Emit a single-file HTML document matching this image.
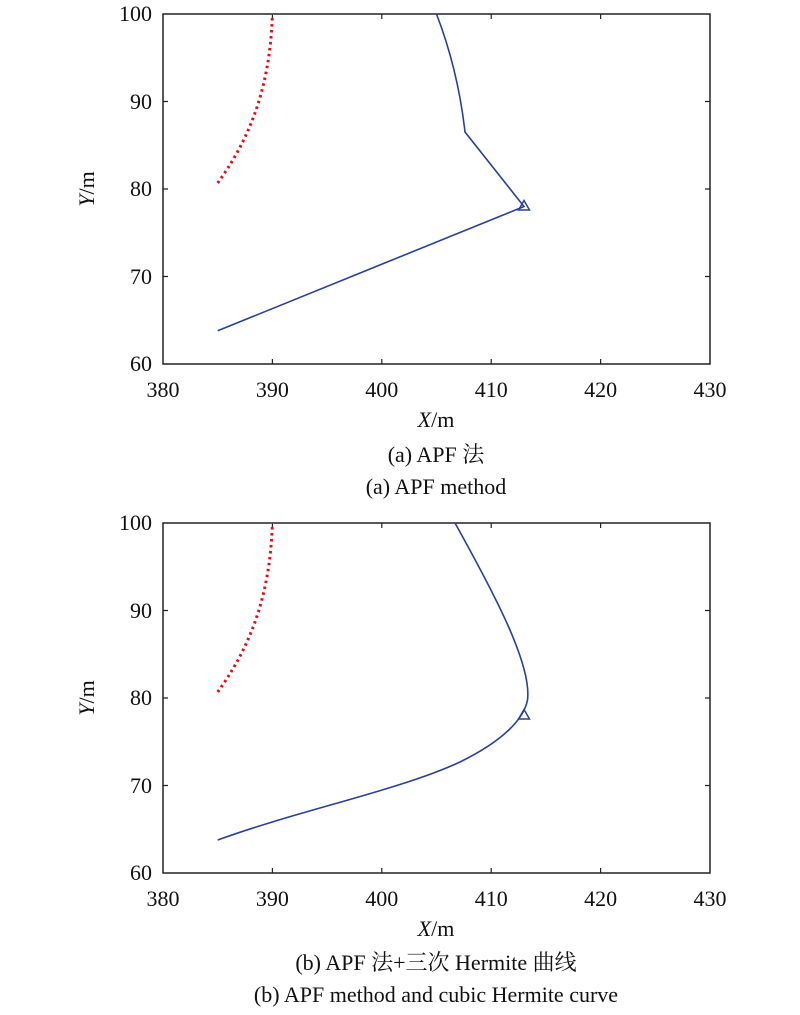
<!DOCTYPE html>
<html><head><meta charset="utf-8"><style>
body{margin:0;background:#fff}
svg text{font-family:"Liberation Serif","Noto Serif CJK SC",serif;fill:#111}
</style></head><body>
<svg width="800" height="1010" viewBox="0 0 800 1010" xmlns="http://www.w3.org/2000/svg">
<g id="top">
<rect x="163" y="14" width="547" height="350" fill="none" stroke="#222" stroke-width="1.5"/>
<g stroke="#222" stroke-width="1.2">
<path d="M272.4,364v-5M381.8,364v-5M491.2,364v-5M600.6,364v-5M272.4,14v5M381.8,14v5M491.2,14v5M600.6,14v5"/>
<path d="M163,101.5h5M163,189h5M163,276.5h5M710,101.5h-5M710,189h-5M710,276.5h-5"/>
</g>
<g font-size="22" text-anchor="end">
<text x="152" y="21">100</text><text x="152" y="109">90</text><text x="152" y="196">80</text><text x="152" y="284">70</text><text x="152" y="371">60</text>
</g>
<g font-size="22" text-anchor="middle">
<text x="163" y="397">380</text><text x="272.4" y="397">390</text><text x="381.8" y="397">400</text><text x="491.2" y="397">410</text><text x="600.6" y="397">420</text><text x="710" y="397">430</text>
</g>
<text x="436" y="427" font-size="22" text-anchor="middle"><tspan font-style="italic">X</tspan>/m</text>
<text transform="translate(94,189) rotate(-90)" font-size="22" text-anchor="middle"><tspan font-style="italic">Y</tspan>/m</text>
<path d="M217.7,183 C245,145 270,95 272.4,14" fill="none" stroke="#e0101a" stroke-width="3" stroke-dasharray="2.5,3.5"/>
<path d="M436.5,14 Q458,70 465,132 L524,206.5 L217.7,330.8" fill="none" stroke="#2a3f9a" stroke-width="1.6"/>
<path d="M518.5,210 L524,200.5 L529.5,210 Z" fill="none" stroke="#2a3f9a" stroke-width="1.5"/>
<text x="436" y="462" font-size="22" text-anchor="middle">(a) APF 法</text>
<text x="436" y="494" font-size="22" text-anchor="middle">(a) APF method</text>
</g>
<g id="bot">
<rect x="163" y="523" width="547" height="350" fill="none" stroke="#222" stroke-width="1.5"/>
<g stroke="#222" stroke-width="1.2">
<path d="M272.4,873v-5M381.8,873v-5M491.2,873v-5M600.6,873v-5M272.4,523v5M381.8,523v5M491.2,523v5M600.6,523v5"/>
<path d="M163,610.5h5M163,698h5M163,785.5h5M710,610.5h-5M710,698h-5M710,785.5h-5"/>
</g>
<g font-size="22" text-anchor="end">
<text x="152" y="530">100</text><text x="152" y="618">90</text><text x="152" y="705">80</text><text x="152" y="793">70</text><text x="152" y="880">60</text>
</g>
<g font-size="22" text-anchor="middle">
<text x="163" y="906">380</text><text x="272.4" y="906">390</text><text x="381.8" y="906">400</text><text x="491.2" y="906">410</text><text x="600.6" y="906">420</text><text x="710" y="906">430</text>
</g>
<text x="436" y="936" font-size="22" text-anchor="middle"><tspan font-style="italic">X</tspan>/m</text>
<text transform="translate(94,698) rotate(-90)" font-size="22" text-anchor="middle"><tspan font-style="italic">Y</tspan>/m</text>
<path d="M217.7,692 C245,654 270,604 272.4,523" fill="none" stroke="#e0101a" stroke-width="3" stroke-dasharray="2.5,3.5"/>
<path d="M455,523 C495,595 532,665 527.5,700 C524,718 505,740 460,762 C400,790 300,810 217.7,840" fill="none" stroke="#2a3f9a" stroke-width="1.6"/>
<path d="M518.5,719 L524,709.5 L529.5,719 Z" fill="none" stroke="#2a3f9a" stroke-width="1.5"/>
<text x="436" y="970" font-size="22" text-anchor="middle">(b) APF 法+三次 Hermite 曲线</text>
<text x="436" y="1002" font-size="22" text-anchor="middle">(b) APF method and cubic Hermite curve</text>
</g>
</svg>
</body></html>
